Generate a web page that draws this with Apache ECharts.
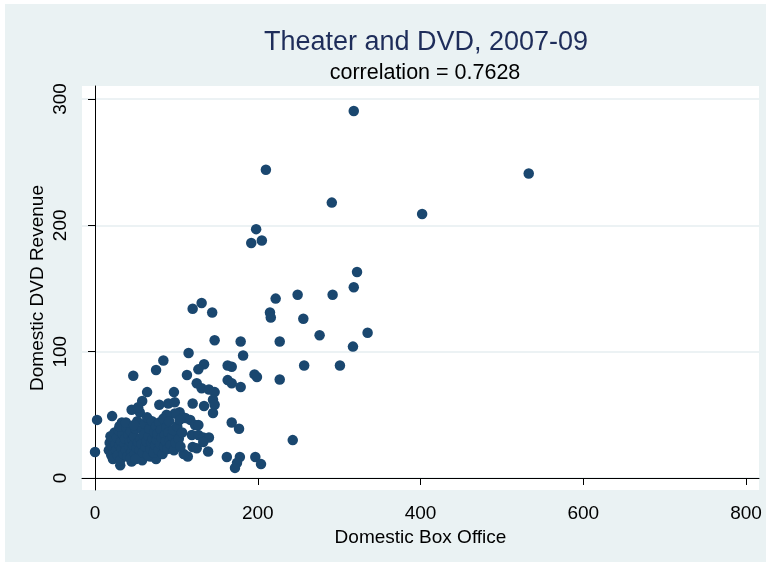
<!DOCTYPE html>
<html>
<head>
<meta charset="utf-8">
<script src="https://cdn.jsdelivr.net/npm/echarts@6/dist/echarts.min.js"></script>
<style>
  html, body { margin: 0; padding: 0; background: #fff; }
  #main { width: 771px; height: 567px; }
</style>
</head>
<body>
<div id="main"></div>
<script>
// box office vs dvd revenue (millions)
const boxOffice = [
  318, 533, 210, 291, 402, 198, 192, 205, 322, 318,
  292, 249, 222, 131, 120, 144, 215, 216, 256, 335,
  276, 147, 179, 227, 317, 115, 182, 134, 127, 163,
  168, 257, 301, 84, 75, 47, 113, 196, 199, 227,
  163, 168, 179, 125, 131, 140, 147, 64, 58, 97,
  120, 145, 147, 145, 134, 79, 90, 98, 45, 55,
  53, 2.5, 21, 33, 168, 177, 104, 98, 111, 117,
  123, 127, 88, 119, 127, 133, 140, 96, 96, 101,
  98, 120, 125, 139, 133, 114, 162, 178, 174.5, 172,
  197, 204, 0, 31, 68, 243, 45, 58, 75, 109
]
const dvdRevenue = [
  290.5, 241, 244, 218, 209, 197, 186, 188, 163, 151,
  145, 145, 142, 138.5, 134, 131, 131, 127, 126, 115,
  113, 109, 108, 108, 104, 99, 97, 90, 86, 89,
  88, 89, 89, 93, 85.5, 81, 81.5, 82, 80, 78,
  77.5, 75, 72, 75, 71, 70, 68, 68, 61, 68,
  59, 62, 58, 51.5, 57, 58, 59, 60, 54, 52,
  56, 46, 49, 44, 44, 39, 52, 51, 47.5, 46,
  42, 42, 50, 34, 34, 32, 32, 36, 32, 28,
  24, 24.5, 23.5, 21, 28.5, 17, 16.6, 16.6, 12, 8,
  16.6, 11, 20.6, 10, 17, 30, 13, 14, 15, 19
]
// the dense cluster at the lower left
const boxOfficeCluster = [
  17, 18, 19, 20, 21, 22, 23, 24, 25, 22,
  26, 27, 28, 29, 30, 31, 32, 33, 34, 35, 30,
  36, 37, 38, 39, 40, 41, 42, 43, 44, 45, 38, 44,
  46, 47, 48, 49, 50, 51, 52, 53, 55, 48, 50,
  56, 57, 58, 59, 60, 61, 62, 63, 64, 65,
  66, 67, 68, 69, 70, 71, 72, 73, 74, 75,
  76, 77, 78, 79, 80, 81, 82, 83, 84, 85,
  86, 87, 88, 89, 90, 91, 92, 93, 95,
  96, 97, 99, 101, 103, 105, 107, 104
]
const dvdRevenueCluster = [
  22, 28, 33, 18, 25, 30, 20, 36, 27, 15,
  22, 32, 18, 38, 26, 14, 29, 23, 35, 19, 41,
  27, 31, 22, 40, 17, 34, 25, 29, 37, 21, 44, 16,
  30, 26, 33, 19, 39, 24, 45, 28, 22, 42, 15,
  31, 27, 38, 20, 34, 43, 25, 29, 48, 18,
  33, 39, 23, 28, 45, 31, 20, 36, 26, 41,
  30, 35, 22, 44, 27, 38, 32, 19, 47, 25,
  34, 29, 40, 23, 36, 45, 30, 26, 33,
  38, 22, 28, 41, 31, 25, 36, 46
]
const xTicks = [0, 200, 400, 600, 800]
const yTicks = [0, 100, 200, 300]

const points = []
boxOffice.forEach((v, i) => points.push([v, dvdRevenue[i]]))
boxOfficeCluster.forEach((v, i) => points.push([v, dvdRevenueCluster[i]]))

const font = 'Liberation Sans, Arial, Helvetica, sans-serif'
const chart = echarts.init(document.getElementById('main'))
chart.setOption({
  animation: false,
  backgroundColor: '#fff',
  graphic: [
    {
      type: 'rect',
      z: -10,
      shape: { x: 5, y: 4, width: 761, height: 558 },
      style: { fill: '#eaf2f3' }
    },
    {
      type: 'rect',
      z: -9,
      shape: { x: 82, y: 86, width: 677, height: 404 },
      style: { fill: '#ffffff' }
    }
  ],
  title: [
    {
      text: 'Theater and DVD, 2007-09',
      left: 421,
      top: 24,
      textAlign: 'center',
      textStyle: { color: '#1e2d5a', fontFamily: font, fontSize: 27, fontWeight: 'normal' }
    },
    {
      text: 'correlation = 0.7628',
      left: 420,
      top: 57,
      textAlign: 'center',
      textStyle: { color: '#000', fontFamily: font, fontSize: 21.5, fontWeight: 'normal' }
    }
  ],
  grid: { left: 82, right: 12, top: 86, bottom: 77 },
  xAxis: {
    type: 'value',
    min: -16,
    max: 816,
    name: 'Domestic Box Office',
    nameLocation: 'middle',
    nameGap: 32,
    nameTextStyle: { color: '#000', fontFamily: font, fontSize: 19 },
    axisLine: { show: true, lineStyle: { color: '#000', width: 1 } },
    axisTick: { show: true, length: 7, customValues: xTicks, lineStyle: { color: '#000' } },
    axisLabel: { customValues: xTicks, color: '#000', fontFamily: font, fontSize: 19, margin: 14 },
    splitLine: { show: false }
  },
  yAxis: {
    type: 'value',
    min: -9.5,
    max: 310.3,
    name: 'Domestic DVD Revenue',
    nameLocation: 'middle',
    nameMoveOverlap: false,
    nameGap: 35,
    nameTextStyle: { color: '#000', fontFamily: font, fontSize: 19 },
    axisLine: { show: true, lineStyle: { color: '#000', width: 1 } },
    axisTick: { show: true, length: 7, customValues: yTicks, lineStyle: { color: '#000' } },
    axisLabel: { customValues: yTicks, rotate: 90, color: '#000', fontFamily: font, fontSize: 19, margin: 12 },
    splitLine: { show: true, lineStyle: { color: '#e6eef0', width: 1.5 } }
  },
  series: [
    {
      type: 'scatter',
      symbol: 'circle',
      symbolSize: 10.5,
      itemStyle: { color: '#1a476f', opacity: 1 },
      data: points
    }
  ]
})
</script>
</body>
</html>
